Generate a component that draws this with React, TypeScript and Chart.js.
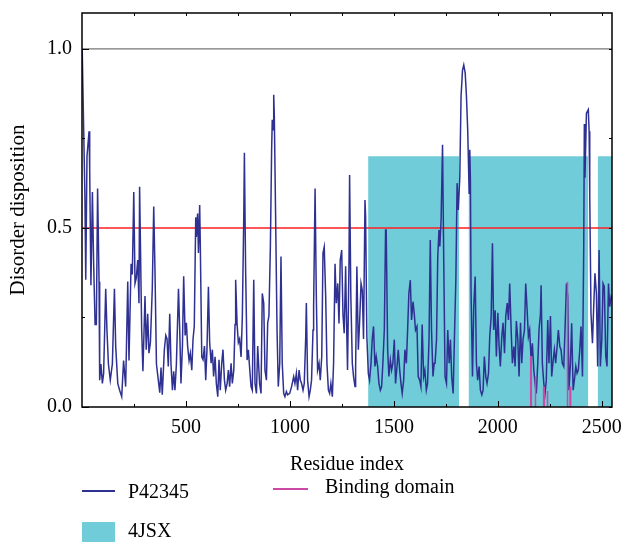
import React, { useEffect, useRef } from 'react';
import { Chart, registerables } from 'chart.js';

Chart.register(...registerables);

// ---- data ----
const residues: number[] = [
  1, 5, 14, 18, 24, 34, 37, 43, 50, 56, 63, 69, 75, 82, 85, 91, 98, 104, 114, 120, 127, 136, 146, 156, 162, 172, 181, 191, 200, 210,
  220, 226, 236, 242, 249, 255, 261, 268, 274, 277, 287, 293, 303, 309, 316, 322, 329, 338, 345, 351, 358, 367, 374, 380, 386, 396, 403,
  409, 415, 422, 428, 435, 441, 447, 454, 464, 470, 476, 483, 489, 496, 502, 508, 515, 521, 528, 534, 540, 547, 550, 556, 560, 566, 569,
  576, 582, 589, 595, 601, 608, 614, 621, 627, 633, 640, 646, 653, 659, 665, 672, 678, 685, 691, 698, 704, 710, 717, 723, 730, 736, 739,
  746, 752, 758, 765, 771, 778, 781, 787, 794, 800, 807, 813, 819, 826, 832, 839, 845,
  854, 861, 867, 874, 880, 887, 893, 899, 906, 912, 915, 919, 922, 925, 931, 938, 944, 951, 957, 963, 970, 976, 983, 989, 999, 1008,
  1018, 1024, 1031, 1037, 1044, 1050, 1056, 1063, 1069, 1076, 1079, 1085, 1092, 1098, 1104, 1111, 1114, 1121, 1127, 1133, 1140, 1146,
  1153, 1159, 1165, 1172, 1178, 1185, 1191, 1197, 1204, 1210, 1217, 1223, 1230, 1236, 1242, 1249, 1255,
  1261, 1268, 1271, 1277, 1284, 1287, 1293, 1300, 1306, 1313, 1316, 1322, 1329, 1335, 1342, 1348, 1354, 1361, 1364, 1370, 1377, 1383,
  1390, 1396, 1402, 1409, 1415, 1422, 1428, 1435, 1441, 1447, 1454, 1460, 1463, 1470, 1476, 1483, 1489, 1495, 1502, 1508, 1515, 1521,
  1528, 1534, 1540, 1547, 1553, 1560, 1566, 1572, 1579, 1585, 1592, 1598, 1604, 1611, 1617, 1624, 1630, 1636, 1643, 1649, 1656, 1662,
  1669, 1675, 1681, 1688, 1694,
  1698, 1705, 1711, 1717, 1721, 1727, 1734, 1740, 1746, 1753, 1759, 1766, 1772, 1778, 1785, 1791, 1798, 1804, 1810, 1817, 1823, 1830,
  1836, 1843, 1849, 1855, 1862, 1865, 1868, 1871, 1878, 1884, 1891, 1897, 1903, 1910, 1916, 1923, 1929, 1935, 1942, 1948, 1955, 1961,
  1968, 1974, 1980, 1987, 1993, 2000, 2006, 2012, 2019, 2025, 2032, 2038, 2045, 2051, 2057, 2064, 2070, 2077, 2083, 2089, 2096, 2102,
  2109, 2115, 2121,
  2128, 2134, 2140, 2147, 2153, 2160, 2166, 2173, 2179, 2185, 2192, 2198, 2205, 2208, 2214, 2221, 2227, 2233, 2240, 2246, 2253, 2259,
  2266, 2272, 2278, 2285, 2291, 2298, 2304, 2310, 2317, 2323, 2330, 2336, 2342, 2349, 2355, 2362, 2368, 2375, 2381, 2387, 2394, 2400,
  2407, 2413, 2416, 2419, 2426, 2435, 2439, 2442, 2448, 2455, 2461, 2467, 2474, 2480, 2487, 2493, 2500, 2506, 2512, 2519, 2525, 2532,
  2538, 2545, 2549,
];

const disorder: number[] = [
  1.0, 0.87, 0.59, 0.355, 0.7, 0.77, 0.66, 0.34, 0.6, 0.4, 0.23, 0.23, 0.61, 0.35, 0.075, 0.12, 0.066, 0.094, 0.33, 0.215, 0.12, 0.075, 0.12, 0.33, 0.17, 0.066, 0.047, 0.029, 0.13, 0.057,
  0.35, 0.13, 0.4, 0.37, 0.6, 0.345, 0.36, 0.41, 0.29, 0.615, 0.215, 0.1, 0.31, 0.16, 0.26, 0.15, 0.18, 0.33, 0.56, 0.38, 0.12, 0.075, 0.04, 0.11, 0.034, 0.16, 0.2,
  0.19, 0.113, 0.26, 0.12, 0.047, 0.1, 0.047, 0.12, 0.33, 0.215, 0.066, 0.17, 0.365, 0.2, 0.235, 0.17, 0.13, 0.15, 0.103, 0.19, 0.225, 0.53, 0.475, 0.54, 0.43, 0.564, 0.45,
  0.14, 0.132, 0.17, 0.075, 0.16, 0.336, 0.18, 0.122, 0.16, 0.085, 0.14, 0.066, 0.029, 0.132, 0.047, 0.122, 0.16, 0.075, 0.047, 0.066, 0.103, 0.057, 0.122, 0.066, 0.103, 0.23, 0.355,
  0.23, 0.18, 0.19, 0.14, 0.25, 0.53, 0.71, 0.38, 0.131, 0.16, 0.103, 0.057, 0.047, 0.355, 0.066, 0.038, 0.17,
  0.066, 0.038, 0.317, 0.29, 0.103, 0.075, 0.235, 0.254, 0.448, 0.718, 0.802, 0.774, 0.872, 0.81, 0.541, 0.215, 0.057, 0.122, 0.42, 0.122, 0.038, 0.029, 0.043, 0.034, 0.038, 0.057,
  0.085, 0.066, 0.094, 0.047, 0.103, 0.075, 0.066, 0.047, 0.066, 0.197, 0.29, 0.075, 0.029, 0.047, 0.075, 0.215, 0.28, 0.61, 0.308, 0.103, 0.122, 0.075,
  0.141, 0.43, 0.447, 0.308, 0.122, 0.047, 0.038, 0.066, 0.029, 0.122, 0.4, 0.29, 0.345, 0.233, 0.41, 0.438, 0.26,
  0.206, 0.393, 0.28, 0.103, 0.4, 0.648, 0.308, 0.122, 0.085, 0.057, 0.113, 0.392, 0.16, 0.235, 0.345, 0.326, 0.19, 0.578, 0.532, 0.197, 0.094, 0.075,
  0.122, 0.19, 0.225, 0.113, 0.141, 0.113, 0.066, 0.047, 0.057, 0.122, 0.215, 0.494, 0.494, 0.16, 0.085, 0.131, 0.103, 0.122, 0.188, 0.066, 0.113, 0.16,
  0.103, 0.066, 0.038, 0.075, 0.16, 0.122, 0.215, 0.317, 0.354, 0.243, 0.294, 0.26, 0.215, 0.225, 0.085, 0.075, 0.057, 0.23, 0.085, 0.103, 0.047, 0.066,
  0.188, 0.466, 0.215, 0.085, 0.122,
  0.122, 0.188, 0.42, 0.494, 0.448, 0.522, 0.732, 0.4, 0.085, 0.066, 0.215, 0.122, 0.188, 0.085, 0.038, 0.188, 0.355, 0.625, 0.55, 0.643, 0.867, 0.94,
  0.955, 0.932, 0.867, 0.774, 0.597, 0.718, 0.634, 0.327, 0.085, 0.28, 0.364, 0.122, 0.075, 0.113, 0.047, 0.034, 0.047, 0.141, 0.085, 0.066, 0.094, 0.197,
  0.254, 0.457, 0.215, 0.27, 0.141, 0.263, 0.17, 0.113, 0.197, 0.235, 0.15, 0.253, 0.29, 0.243, 0.345, 0.215, 0.122, 0.169, 0.113, 0.24, 0.188, 0.085,
  0.235, 0.122, 0.188,
  0.215, 0.345, 0.28, 0.197, 0.215, 0.131, 0.178, 0.103, 0.066, 0.038, 0.122, 0.215, 0.26, 0.34, 0.122, 0.066, 0.038, 0.075, 0.243, 0.122, 0.254, 0.085,
  0.131, 0.16, 0.122, 0.169, 0.215, 0.169, 0.16, 0.122, 0.113, 0.215, 0.345, 0.308, 0.047, 0.122, 0.234, 0.047, 0.075, 0.113, 0.094, 0.103, 0.16, 0.225,
  0.085, 0.44, 0.79, 0.64, 0.82, 0.83, 0.77, 0.59, 0.26, 0.178, 0.28, 0.373, 0.317, 0.113, 0.438, 0.113, 0.188, 0.345, 0.336, 0.141, 0.113, 0.345,
  0.28, 0.308, 0.3,
];

const bindingResidues: number[] = [2158, 2179, 2220, 2237, 2333, 2347];
const bindingValues: number[] = [0.14, 0.085, 0.055, 0.045, 0.35, 0.055];

const structureStarts: number[] = [1376, 1859, 2480];
const structureEnds: number[] = [1814, 2435, 2549];
const structureHeight = 0.7;

const thresholdValue = 0.5;
const upperReference = 1.0;

const xMin = 0;
const xMax = 2549;
const yMin = 0;
const yMax = 1.1;

const xTickValues: number[] = [250, 500, 750, 1000, 1250, 1500, 1750, 2000, 2250, 2500];
const xLabelValues: number[] = [500, 1000, 1500, 2000, 2500];
const yTickValues: number[] = [0, 0.25, 0.5, 0.75, 1.0];
const yLabelValues: number[] = [0, 0.5, 1.0];

const seriesLabels = { protein: 'P42345', binding: 'Binding domain', structure: '4JSX' };
const axisTitles = { x: 'Residue index', y: 'Disorder disposition' };

// ---- styles ----
const FONT = '"Liberation Serif", "Times New Roman", serif';
const BLUE = '#2e3192';
const MAGENTA = '#cc4aa6';
const CYAN = '#70ccd9';
const RED = '#ff1f1f';
const GREY = '#777777';

const frameAndTicks = {
  id: 'frameAndTicks',
  afterDatasetsDraw(chart: any) {
    const { ctx, chartArea, scales } = chart;
    const { left, right, top, bottom } = chartArea;
    const x = scales.x;
    const y = scales.y;
    ctx.save();
    ctx.strokeStyle = '#000';
    ctx.lineWidth = 1;
    ctx.beginPath();
    for (const v of xTickValues) {
      const px = Math.round(x.getPixelForValue(v)) + 0.5;
      const major = xLabelValues.includes(v);
      ctx.moveTo(px, bottom);
      ctx.lineTo(px, bottom - (major ? 6 : 3));
      ctx.moveTo(px, top);
      ctx.lineTo(px, top + 3);
    }
    for (const v of yTickValues) {
      const py = Math.round(y.getPixelForValue(v)) + 0.5;
      const major = yLabelValues.includes(v);
      ctx.moveTo(left, py);
      ctx.lineTo(left + (major ? 7 : 3), py);
      ctx.moveTo(right, py);
      ctx.lineTo(right - 3, py);
    }
    ctx.stroke();
    ctx.lineWidth = 1.5;
    ctx.strokeRect(left, top, right - left, bottom - top);
    ctx.restore();
  },
};

const zeroPadding = (s: any) => {
  s.paddingTop = 0;
  s.paddingBottom = 0;
  s.paddingLeft = 0;
  s.paddingRight = 0;
};

export default function App() {
  const canvasRef = useRef<HTMLCanvasElement | null>(null);

  useEffect(() => {
    document.body.style.margin = '0';
    const canvas = canvasRef.current;
    if (!canvas) return;

    const profile = residues.map((r, i) => ({ x: r, y: disorder[i] }));

    const binding: any[] = [];
    bindingResidues.forEach((r, i) => {
      binding.push({ x: r, y: 0 });
      binding.push({ x: r, y: bindingValues[i] });
      binding.push({ x: r + 3, y: bindingValues[i] });
      binding.push({ x: r + 3, y: 0 });
      binding.push({ x: r + 4, y: null });
    });

    const boxes: any[] = [];
    structureStarts.forEach((s, i) => {
      boxes.push({ x: s, y: structureHeight });
      boxes.push({ x: structureEnds[i], y: structureHeight });
      if (i < structureStarts.length - 1) {
        boxes.push({ x: (structureEnds[i] + structureStarts[i + 1]) / 2, y: null });
      }
    });

    const chart = new Chart(canvas, {
      type: 'line',
      data: {
        datasets: [
          {
            label: seriesLabels.binding,
            data: binding,
            borderColor: MAGENTA,
            borderWidth: 1.5,
            pointRadius: 0,
            spanGaps: false,
            order: 1,
          },
          {
            label: seriesLabels.protein,
            data: profile,
            borderColor: BLUE,
            borderWidth: 1.5,
            pointRadius: 0,
            tension: 0,
            order: 2,
          },
          {
            label: 'threshold',
            data: [
              { x: xMin, y: thresholdValue },
              { x: xMax, y: thresholdValue },
            ],
            borderColor: RED,
            borderWidth: 1.5,
            pointRadius: 0,
            order: 3,
          },
          {
            label: 'upper',
            data: [
              { x: xMin, y: upperReference },
              { x: xMax, y: upperReference },
            ],
            borderColor: GREY,
            borderWidth: 1.2,
            pointRadius: 0,
            order: 4,
          },
          {
            label: seriesLabels.structure,
            data: boxes,
            borderWidth: 0,
            borderColor: CYAN,
            backgroundColor: CYAN,
            fill: 'origin',
            pointRadius: 0,
            spanGaps: false,
            order: 5,
          },
        ] as any,
      },
      options: {
        responsive: false,
        animation: false,
        layout: { padding: { top: 13, right: 12, bottom: 65, left: 0 } },
        plugins: { legend: { display: false }, tooltip: { enabled: false } },
        scales: {
          x: {
            type: 'linear',
            min: xMin,
            max: xMax,
            afterBuildTicks: (s: any) => {
              s.ticks = xTickValues.map((v) => ({ value: v }));
            },
            afterFit: (s: any) => {
              s.height = 70;
              zeroPadding(s);
            },
            grid: { display: false, drawTicks: false },
            border: { display: false },
            ticks: {
              autoSkip: false,
              maxRotation: 0,
              padding: 9,
              color: '#000',
              font: { family: FONT, size: 20 },
              callback: (v: any) => (xLabelValues.includes(Number(v)) ? String(v) : ''),
            },
            title: {
              display: true,
              text: axisTitles.x,
              color: '#000',
              font: { family: FONT, size: 20 },
              padding: { top: 0, bottom: 0 },
            },
          },
          y: {
            type: 'linear',
            min: yMin,
            max: yMax,
            afterBuildTicks: (s: any) => {
              s.ticks = yTickValues.map((v) => ({ value: v }));
            },
            afterFit: (s: any) => {
              s.width = 82;
              zeroPadding(s);
            },
            grid: { display: false, drawTicks: false },
            border: { display: false },
            ticks: {
              autoSkip: false,
              padding: 10,
              color: '#000',
              font: { family: FONT, size: 20 },
              callback: (v: any) => (yLabelValues.includes(Number(v)) ? Number(v).toFixed(1) : ''),
            },
            title: {
              display: true,
              text: axisTitles.y,
              color: '#000',
              font: { family: FONT, size: 21 },
              padding: { top: 6, bottom: 0 },
            },
          },
        },
      },
      plugins: [frameAndTicks],
    });

    return () => chart.destroy();
  }, []);

  const textStyle: React.CSSProperties = {
    position: 'absolute',
    fontFamily: FONT,
    fontSize: 20,
    lineHeight: '24px',
    color: '#000',
    whiteSpace: 'nowrap',
  };

  return (
    <div style={{ position: 'absolute', left: 0, top: 0, width: 624, height: 542, overflow: 'hidden', background: '#fff' }}>
      <canvas ref={canvasRef} width={624} height={542} style={{ width: 624, height: 542, display: 'block' }} />
      <div style={{ position: 'absolute', left: 82, top: 490, width: 33, height: 1.5, background: BLUE }} />
      <div style={{ ...textStyle, left: 128, top: 479 }}>{seriesLabels.protein}</div>
      <div style={{ position: 'absolute', left: 273, top: 488, width: 35, height: 1.5, background: MAGENTA }} />
      <div style={{ ...textStyle, left: 325, top: 474 }}>{seriesLabels.binding}</div>
      <div style={{ position: 'absolute', left: 82, top: 522, width: 33, height: 20, background: CYAN }} />
      <div style={{ ...textStyle, left: 128, top: 518 }}>{seriesLabels.structure}</div>
    </div>
  );
}
